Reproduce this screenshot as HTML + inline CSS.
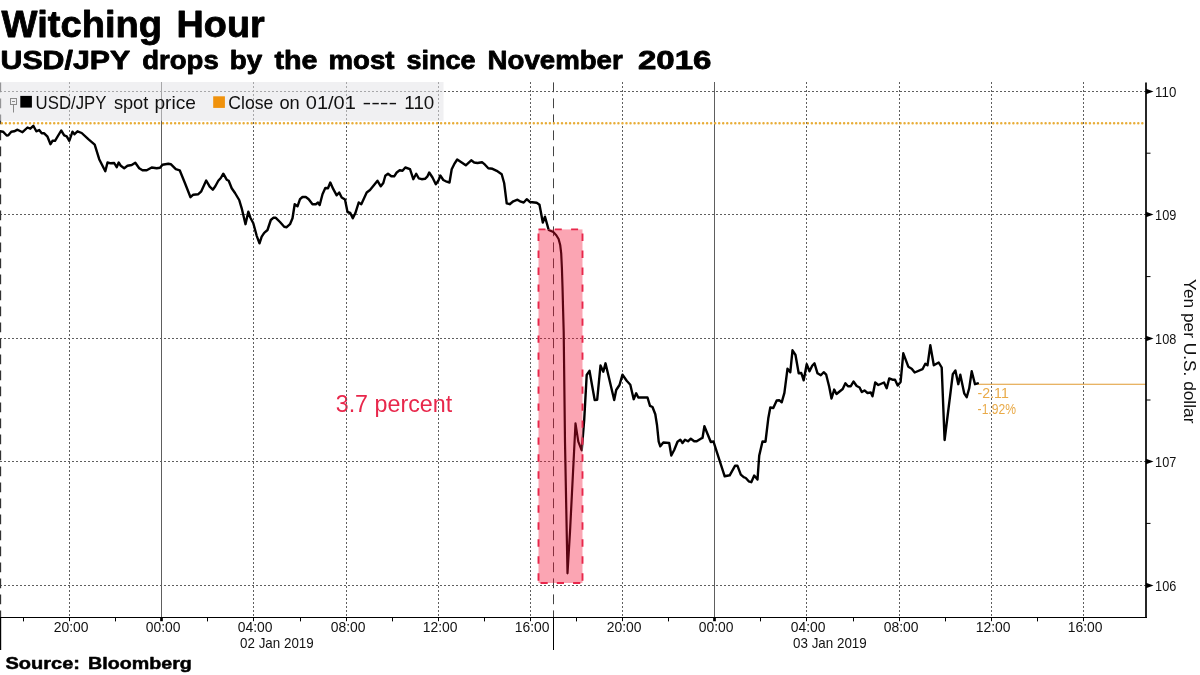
<!DOCTYPE html>
<html><head><meta charset="utf-8"><title>Witching Hour</title>
<style>
html,body{margin:0;padding:0;background:#fff;}
body{width:1200px;height:675px;overflow:hidden;position:relative;font-family:"Liberation Sans",sans-serif;}
svg text{font-family:"Liberation Sans",sans-serif;}
</style></head><body>
<svg width="1200" height="675" viewBox="0 0 1200 675" style="position:absolute;left:0;top:0;will-change:transform">
<text x="335.7" y="411.6" font-size="23.6" textLength="116.5" lengthAdjust="spacingAndGlyphs" fill="#e8274b">3.7 percent</text>
<text x="977.6" y="397.5" font-size="15" textLength="31.2" lengthAdjust="spacingAndGlyphs" fill="#e9aa48">-2.11</text>
<text x="977.6" y="413.5" font-size="15" textLength="38.4" lengthAdjust="spacingAndGlyphs" fill="#e9aa48">-1.92%</text>
<line x1="69.5" y1="82.0" x2="69.5" y2="617.5" stroke="#5e5e5e" stroke-width="1" stroke-dasharray="2,2"/>
<line x1="161.5" y1="82.0" x2="161.5" y2="617.5" stroke="#5e5e5e" stroke-width="1"/>
<line x1="253.5" y1="82.0" x2="253.5" y2="617.5" stroke="#5e5e5e" stroke-width="1" stroke-dasharray="2,2"/>
<line x1="346.5" y1="82.0" x2="346.5" y2="617.5" stroke="#5e5e5e" stroke-width="1" stroke-dasharray="2,2"/>
<line x1="438.5" y1="82.0" x2="438.5" y2="617.5" stroke="#5e5e5e" stroke-width="1" stroke-dasharray="2,2"/>
<line x1="530.5" y1="82.0" x2="530.5" y2="617.5" stroke="#5e5e5e" stroke-width="1" stroke-dasharray="2,2"/>
<line x1="622.5" y1="82.0" x2="622.5" y2="617.5" stroke="#5e5e5e" stroke-width="1" stroke-dasharray="2,2"/>
<line x1="714.5" y1="82.0" x2="714.5" y2="617.5" stroke="#5e5e5e" stroke-width="1"/>
<line x1="806.5" y1="82.0" x2="806.5" y2="617.5" stroke="#5e5e5e" stroke-width="1" stroke-dasharray="2,2"/>
<line x1="899.5" y1="82.0" x2="899.5" y2="617.5" stroke="#5e5e5e" stroke-width="1" stroke-dasharray="2,2"/>
<line x1="991.5" y1="82.0" x2="991.5" y2="617.5" stroke="#5e5e5e" stroke-width="1" stroke-dasharray="2,2"/>
<line x1="1083.5" y1="82.0" x2="1083.5" y2="617.5" stroke="#5e5e5e" stroke-width="1" stroke-dasharray="2,2"/>
<line x1="0" y1="91.5" x2="1146.0" y2="91.5" stroke="#5e5e5e" stroke-width="1" stroke-dasharray="2,2"/>
<line x1="0" y1="214.5" x2="1146.0" y2="214.5" stroke="#5e5e5e" stroke-width="1" stroke-dasharray="2,2"/>
<line x1="0" y1="338.5" x2="1146.0" y2="338.5" stroke="#5e5e5e" stroke-width="1" stroke-dasharray="2,2"/>
<line x1="0" y1="461.5" x2="1146.0" y2="461.5" stroke="#5e5e5e" stroke-width="1" stroke-dasharray="2,2"/>
<line x1="0" y1="585.5" x2="1146.0" y2="585.5" stroke="#5e5e5e" stroke-width="1" stroke-dasharray="2,2"/>
<line x1="0.4" y1="82.4" x2="0.4" y2="617.5" stroke="#333" stroke-width="1.5" stroke-dasharray="9.8,6.2"/>
<line x1="553.5" y1="82.4" x2="553.5" y2="617.5" stroke="#444" stroke-width="1" stroke-dasharray="9.8,6.2"/>
<line x1="0.4" y1="617.5" x2="0.4" y2="650" stroke="#000" stroke-width="1.6"/>
<line x1="553.5" y1="617.5" x2="553.5" y2="650" stroke="#000" stroke-width="1"/>
<rect x="0" y="82" width="443.5" height="38.8" fill="rgb(228,228,231)" fill-opacity="0.55"/>
<line x1="-2.2" y1="123.3" x2="1143" y2="123.3" stroke="#e8ad38" stroke-width="2.5" stroke-linecap="round" stroke-dasharray="0.01,4.02"/>
<line x1="977.7" y1="384.2" x2="1146.0" y2="384.2" stroke="#e09a30" stroke-width="1.1"/>
<defs><clipPath id="cin"><rect x="538.5" y="229.4" width="44" height="353.6"/></clipPath><clipPath id="cout"><path clip-rule="evenodd" d="M-5,0H1205V675H-5Z M538.5,229.4V583H582.5V229.4Z"/></clipPath></defs>
<path d="M0.0,131.3 L3.0,131.7 L6.7,135.5 L8.3,135.3 L11.3,131.7 L14.2,131.3 L17.5,129.7 L22.5,132.2 L27.5,127.5 L30.3,128.7 L33.3,125.8 L36.3,131.3 L39.2,130.0 L41.7,133.3 L44.2,133.3 L47.5,136.7 L50.5,144.2 L52.5,140.8 L55.0,140.8 L61.2,130.5 L64.2,135.3 L66.7,136.3 L69.3,140.8 L72.5,131.7 L74.5,134.2 L77.5,131.3 L81.7,133.0 L88.3,139.2 L94.7,144.7 L99.2,159.2 L105.3,171.3 L107.5,162.5 L110.8,163.3 L114.2,163.0 L116.7,167.2 L118.7,162.5 L120.8,165.8 L124.2,168.3 L127.5,165.8 L131.7,165.0 L135.3,162.7 L139.2,168.3 L142.5,170.3 L146.7,170.3 L151.7,167.5 L156.7,168.3 L160.0,167.8 L162.5,164.7 L168.3,163.7 L170.8,164.2 L175.8,169.2 L179.7,170.3 L185.0,183.3 L190.5,197.2 L193.3,194.7 L198.3,194.2 L201.3,191.3 L206.2,180.5 L209.7,186.7 L212.8,189.7 L215.3,186.3 L218.3,180.8 L220.8,178.0 L223.3,173.7 L226.7,179.7 L228.7,180.8 L231.7,188.3 L235.0,193.0 L239.2,200.0 L241.7,208.3 L245.5,224.2 L248.3,211.7 L250.3,217.5 L253.3,223.3 L256.7,235.8 L259.5,243.3 L261.7,236.7 L264.2,232.8 L267.5,230.0 L270.8,220.0 L273.3,217.8 L275.8,217.8 L280.0,222.0 L284.2,226.7 L286.7,227.2 L290.0,224.2 L292.5,218.3 L294.7,204.2 L297.5,206.3 L300.0,199.2 L302.5,197.0 L305.8,197.0 L308.7,199.2 L312.5,204.2 L315.8,204.2 L318.0,202.5 L319.7,205.0 L322.5,194.2 L325.3,188.0 L328.0,188.3 L330.3,182.5 L333.3,189.2 L336.7,195.3 L339.2,192.5 L341.7,197.5 L345.0,199.5 L347.5,212.0 L350.3,213.0 L352.8,218.3 L355.3,213.3 L358.7,202.5 L361.3,204.2 L366.7,192.5 L370.0,190.0 L377.5,180.8 L380.8,186.3 L383.3,183.0 L385.3,175.8 L388.0,173.7 L391.3,176.3 L394.2,176.3 L396.7,172.5 L399.7,170.3 L402.5,170.8 L405.3,167.5 L410.0,169.2 L413.3,179.2 L416.2,173.7 L418.7,178.3 L421.7,179.2 L425.0,178.8 L427.5,176.3 L429.2,172.5 L432.5,177.5 L435.8,184.2 L438.3,180.8 L440.3,175.5 L443.3,180.0 L446.7,181.7 L449.5,182.5 L451.7,169.2 L454.2,164.2 L457.2,159.5 L461.7,162.5 L465.8,165.3 L471.2,160.3 L474.2,162.5 L477.5,163.0 L482.0,162.2 L485.0,164.7 L488.3,168.3 L492.5,168.8 L496.7,170.8 L501.7,174.2 L504.2,183.3 L506.7,203.3 L509.7,204.2 L513.3,201.3 L517.5,199.7 L520.8,201.7 L523.7,202.5 L526.7,199.2 L530.0,202.0 L536.7,202.8 L539.5,204.7 L542.8,222.5 L545.0,216.7 L548.7,230.0 L553.3,232.0 L556.3,235.2 L558.6,239.0 L560.2,245.0 L561.2,253.3 L561.9,268.0 L562.5,286.7 L563.1,310.0 L563.7,332.0 L565.0,442.0 L567.5,573.3 L570.0,532.0 L575.5,423.3 L578.3,441.7 L581.7,450.3 L584.2,420.0 L586.7,375.0 L589.5,370.8 L592.0,385.0 L594.7,400.0 L597.2,399.7 L600.5,365.5 L603.3,371.7 L605.5,363.3 L608.3,375.0 L614.2,400.0 L616.2,390.0 L619.5,385.0 L622.5,374.7 L626.7,380.8 L630.3,384.7 L633.7,399.2 L636.2,393.3 L638.3,397.5 L647.5,397.5 L650.0,405.8 L652.5,407.0 L655.3,414.2 L657.0,425.0 L658.7,441.7 L660.3,446.3 L663.3,442.5 L669.2,443.0 L671.3,455.5 L674.2,450.0 L677.5,441.7 L680.3,439.7 L682.5,443.0 L685.0,439.7 L688.0,441.3 L690.8,438.7 L694.2,441.3 L696.7,441.3 L700.8,438.7 L702.5,438.0 L704.4,426.3 L710.8,442.0 L713.5,441.5 L716.7,451.7 L724.7,476.3 L729.7,475.3 L735.0,465.8 L737.5,465.8 L740.8,474.7 L743.7,477.2 L745.8,478.0 L748.7,481.3 L751.3,482.2 L754.2,475.5 L757.5,479.5 L759.2,455.8 L762.5,441.5 L765.5,441.7 L768.3,418.3 L770.3,407.5 L773.3,408.0 L776.7,400.5 L779.2,400.2 L781.7,402.3 L784.4,392.9 L787.5,368.7 L790.3,372.2 L792.5,350.3 L795.5,355.0 L798.7,373.3 L801.3,373.0 L803.7,380.3 L806.7,364.2 L809.5,371.3 L812.2,365.8 L814.5,363.3 L817.5,373.3 L820.8,375.3 L823.7,372.2 L826.2,374.7 L829.2,386.7 L831.5,398.5 L834.2,389.6 L836.5,394.0 L842.7,389.0 L845.4,383.3 L848.0,386.2 L850.8,386.2 L853.5,381.5 L856.7,386.0 L859.6,387.5 L861.8,392.1 L864.5,390.4 L867.5,393.0 L870.8,392.5 L872.5,396.3 L875.2,382.5 L878.3,385.0 L884.0,382.5 L886.7,388.2 L889.2,378.5 L892.5,379.7 L895.0,379.7 L897.7,385.6 L900.6,382.0 L903.3,353.3 L908.3,366.7 L911.7,368.7 L914.7,372.5 L922.5,369.2 L925.3,363.8 L927.5,365.3 L930.3,345.3 L933.8,365.3 L938.7,362.5 L941.7,367.5 L944.6,440.0 L952.8,374.2 L955.4,370.5 L958.3,384.2 L960.3,374.7 L964.2,393.3 L966.7,397.2 L969.2,388.3 L971.7,371.3 L975.0,384.2 L977.8,383.3" fill="none" stroke="#000" stroke-width="2.4" stroke-linejoin="round" stroke-linecap="round" clip-path="url(#cout)"/>
<path d="M0.0,131.3 L3.0,131.7 L6.7,135.5 L8.3,135.3 L11.3,131.7 L14.2,131.3 L17.5,129.7 L22.5,132.2 L27.5,127.5 L30.3,128.7 L33.3,125.8 L36.3,131.3 L39.2,130.0 L41.7,133.3 L44.2,133.3 L47.5,136.7 L50.5,144.2 L52.5,140.8 L55.0,140.8 L61.2,130.5 L64.2,135.3 L66.7,136.3 L69.3,140.8 L72.5,131.7 L74.5,134.2 L77.5,131.3 L81.7,133.0 L88.3,139.2 L94.7,144.7 L99.2,159.2 L105.3,171.3 L107.5,162.5 L110.8,163.3 L114.2,163.0 L116.7,167.2 L118.7,162.5 L120.8,165.8 L124.2,168.3 L127.5,165.8 L131.7,165.0 L135.3,162.7 L139.2,168.3 L142.5,170.3 L146.7,170.3 L151.7,167.5 L156.7,168.3 L160.0,167.8 L162.5,164.7 L168.3,163.7 L170.8,164.2 L175.8,169.2 L179.7,170.3 L185.0,183.3 L190.5,197.2 L193.3,194.7 L198.3,194.2 L201.3,191.3 L206.2,180.5 L209.7,186.7 L212.8,189.7 L215.3,186.3 L218.3,180.8 L220.8,178.0 L223.3,173.7 L226.7,179.7 L228.7,180.8 L231.7,188.3 L235.0,193.0 L239.2,200.0 L241.7,208.3 L245.5,224.2 L248.3,211.7 L250.3,217.5 L253.3,223.3 L256.7,235.8 L259.5,243.3 L261.7,236.7 L264.2,232.8 L267.5,230.0 L270.8,220.0 L273.3,217.8 L275.8,217.8 L280.0,222.0 L284.2,226.7 L286.7,227.2 L290.0,224.2 L292.5,218.3 L294.7,204.2 L297.5,206.3 L300.0,199.2 L302.5,197.0 L305.8,197.0 L308.7,199.2 L312.5,204.2 L315.8,204.2 L318.0,202.5 L319.7,205.0 L322.5,194.2 L325.3,188.0 L328.0,188.3 L330.3,182.5 L333.3,189.2 L336.7,195.3 L339.2,192.5 L341.7,197.5 L345.0,199.5 L347.5,212.0 L350.3,213.0 L352.8,218.3 L355.3,213.3 L358.7,202.5 L361.3,204.2 L366.7,192.5 L370.0,190.0 L377.5,180.8 L380.8,186.3 L383.3,183.0 L385.3,175.8 L388.0,173.7 L391.3,176.3 L394.2,176.3 L396.7,172.5 L399.7,170.3 L402.5,170.8 L405.3,167.5 L410.0,169.2 L413.3,179.2 L416.2,173.7 L418.7,178.3 L421.7,179.2 L425.0,178.8 L427.5,176.3 L429.2,172.5 L432.5,177.5 L435.8,184.2 L438.3,180.8 L440.3,175.5 L443.3,180.0 L446.7,181.7 L449.5,182.5 L451.7,169.2 L454.2,164.2 L457.2,159.5 L461.7,162.5 L465.8,165.3 L471.2,160.3 L474.2,162.5 L477.5,163.0 L482.0,162.2 L485.0,164.7 L488.3,168.3 L492.5,168.8 L496.7,170.8 L501.7,174.2 L504.2,183.3 L506.7,203.3 L509.7,204.2 L513.3,201.3 L517.5,199.7 L520.8,201.7 L523.7,202.5 L526.7,199.2 L530.0,202.0 L536.7,202.8 L539.5,204.7 L542.8,222.5 L545.0,216.7 L548.7,230.0 L553.3,232.0 L556.3,235.2 L558.6,239.0 L560.2,245.0 L561.2,253.3 L561.9,268.0 L562.5,286.7 L563.1,310.0 L563.7,332.0 L565.0,442.0 L567.5,573.3 L570.0,532.0 L575.5,423.3 L578.3,441.7 L581.7,450.3 L584.2,420.0 L586.7,375.0 L589.5,370.8 L592.0,385.0 L594.7,400.0 L597.2,399.7 L600.5,365.5 L603.3,371.7 L605.5,363.3 L608.3,375.0 L614.2,400.0 L616.2,390.0 L619.5,385.0 L622.5,374.7 L626.7,380.8 L630.3,384.7 L633.7,399.2 L636.2,393.3 L638.3,397.5 L647.5,397.5 L650.0,405.8 L652.5,407.0 L655.3,414.2 L657.0,425.0 L658.7,441.7 L660.3,446.3 L663.3,442.5 L669.2,443.0 L671.3,455.5 L674.2,450.0 L677.5,441.7 L680.3,439.7 L682.5,443.0 L685.0,439.7 L688.0,441.3 L690.8,438.7 L694.2,441.3 L696.7,441.3 L700.8,438.7 L702.5,438.0 L704.4,426.3 L710.8,442.0 L713.5,441.5 L716.7,451.7 L724.7,476.3 L729.7,475.3 L735.0,465.8 L737.5,465.8 L740.8,474.7 L743.7,477.2 L745.8,478.0 L748.7,481.3 L751.3,482.2 L754.2,475.5 L757.5,479.5 L759.2,455.8 L762.5,441.5 L765.5,441.7 L768.3,418.3 L770.3,407.5 L773.3,408.0 L776.7,400.5 L779.2,400.2 L781.7,402.3 L784.4,392.9 L787.5,368.7 L790.3,372.2 L792.5,350.3 L795.5,355.0 L798.7,373.3 L801.3,373.0 L803.7,380.3 L806.7,364.2 L809.5,371.3 L812.2,365.8 L814.5,363.3 L817.5,373.3 L820.8,375.3 L823.7,372.2 L826.2,374.7 L829.2,386.7 L831.5,398.5 L834.2,389.6 L836.5,394.0 L842.7,389.0 L845.4,383.3 L848.0,386.2 L850.8,386.2 L853.5,381.5 L856.7,386.0 L859.6,387.5 L861.8,392.1 L864.5,390.4 L867.5,393.0 L870.8,392.5 L872.5,396.3 L875.2,382.5 L878.3,385.0 L884.0,382.5 L886.7,388.2 L889.2,378.5 L892.5,379.7 L895.0,379.7 L897.7,385.6 L900.6,382.0 L903.3,353.3 L908.3,366.7 L911.7,368.7 L914.7,372.5 L922.5,369.2 L925.3,363.8 L927.5,365.3 L930.3,345.3 L933.8,365.3 L938.7,362.5 L941.7,367.5 L944.6,440.0 L952.8,374.2 L955.4,370.5 L958.3,384.2 L960.3,374.7 L964.2,393.3 L966.7,397.2 L969.2,388.3 L971.7,371.3 L975.0,384.2 L977.8,383.3" fill="none" stroke="#000" stroke-width="2.2" stroke-linejoin="round" stroke-linecap="round" clip-path="url(#cin)"/>
<rect x="538.5" y="229.4" width="44" height="353.6" fill="rgb(245,10,50)" fill-opacity="0.37"/>
<g stroke="#e8274b" stroke-width="1.9" fill="none">
<line x1="538.5" y1="229.4" x2="583.4" y2="229.4" stroke-dasharray="7,9.3"/>
<line x1="583.5" y1="583" x2="537.5" y2="583" stroke-dasharray="0,3.2,7.2,9.1,7.2,9.1,7.2,9.1"/>
<line x1="582.5" y1="233.5" x2="582.5" y2="583" stroke-dasharray="7.4,9.59"/>
<line x1="538.5" y1="233.5" x2="538.5" y2="583" stroke-dasharray="7.4,9.59"/>
</g>
<line x1="1146.0" y1="82.5" x2="1146.0" y2="618.1" stroke="#000" stroke-width="1.7"/>
<line x1="0" y1="617.5" x2="1147.0" y2="617.5" stroke="#000" stroke-width="1.2"/>
<path d="M1146.0,88.8 L1153.5,91.5 L1146.0,94.2 Z" fill="#000"/>
<text x="1155.1" y="96.8" font-size="15" textLength="21.2" lengthAdjust="spacingAndGlyphs" fill="#111">110</text>
<path d="M1146.0,211.8 L1153.5,214.5 L1146.0,217.2 Z" fill="#000"/>
<text x="1155.1" y="219.8" font-size="15" textLength="21.2" lengthAdjust="spacingAndGlyphs" fill="#111">109</text>
<path d="M1146.0,335.8 L1153.5,338.5 L1146.0,341.2 Z" fill="#000"/>
<text x="1155.1" y="343.8" font-size="15" textLength="21.2" lengthAdjust="spacingAndGlyphs" fill="#111">108</text>
<path d="M1146.0,458.8 L1153.5,461.5 L1146.0,464.2 Z" fill="#000"/>
<text x="1155.1" y="466.8" font-size="15" textLength="21.2" lengthAdjust="spacingAndGlyphs" fill="#111">107</text>
<path d="M1146.0,582.8 L1153.5,585.5 L1146.0,588.2 Z" fill="#000"/>
<text x="1155.1" y="590.8" font-size="15" textLength="21.2" lengthAdjust="spacingAndGlyphs" fill="#111">106</text>
<line x1="1146.0" y1="153.2" x2="1150.5" y2="153.2" stroke="#000" stroke-width="1"/>
<line x1="1146.0" y1="276.6" x2="1150.5" y2="276.6" stroke="#000" stroke-width="1"/>
<line x1="1146.0" y1="400.0" x2="1150.5" y2="400.0" stroke="#000" stroke-width="1"/>
<line x1="1146.0" y1="523.4" x2="1150.5" y2="523.4" stroke="#000" stroke-width="1"/>
<line x1="69.5" y1="617.5" x2="69.5" y2="621.2" stroke="#000" stroke-width="1"/>
<text x="53.7" y="632" font-size="15" textLength="34.8" lengthAdjust="spacingAndGlyphs" fill="#111">20:00</text>
<line x1="161.5" y1="617.5" x2="161.5" y2="621.2" stroke="#000" stroke-width="2.7"/>
<text x="145.7" y="632" font-size="15" textLength="34.8" lengthAdjust="spacingAndGlyphs" fill="#111">00:00</text>
<line x1="253.5" y1="617.5" x2="253.5" y2="621.2" stroke="#000" stroke-width="1"/>
<text x="237.7" y="632" font-size="15" textLength="34.8" lengthAdjust="spacingAndGlyphs" fill="#111">04:00</text>
<line x1="346.5" y1="617.5" x2="346.5" y2="621.2" stroke="#000" stroke-width="1"/>
<text x="330.7" y="632" font-size="15" textLength="34.8" lengthAdjust="spacingAndGlyphs" fill="#111">08:00</text>
<line x1="438.5" y1="617.5" x2="438.5" y2="621.2" stroke="#000" stroke-width="1"/>
<text x="422.7" y="632" font-size="15" textLength="34.8" lengthAdjust="spacingAndGlyphs" fill="#111">12:00</text>
<line x1="530.5" y1="617.5" x2="530.5" y2="621.2" stroke="#000" stroke-width="1"/>
<text x="514.7" y="632" font-size="15" textLength="34.8" lengthAdjust="spacingAndGlyphs" fill="#111">16:00</text>
<line x1="622.5" y1="617.5" x2="622.5" y2="621.2" stroke="#000" stroke-width="1"/>
<text x="606.7" y="632" font-size="15" textLength="34.8" lengthAdjust="spacingAndGlyphs" fill="#111">20:00</text>
<line x1="714.5" y1="617.5" x2="714.5" y2="621.2" stroke="#000" stroke-width="2.7"/>
<text x="698.7" y="632" font-size="15" textLength="34.8" lengthAdjust="spacingAndGlyphs" fill="#111">00:00</text>
<line x1="806.5" y1="617.5" x2="806.5" y2="621.2" stroke="#000" stroke-width="1"/>
<text x="790.7" y="632" font-size="15" textLength="34.8" lengthAdjust="spacingAndGlyphs" fill="#111">04:00</text>
<line x1="899.5" y1="617.5" x2="899.5" y2="621.2" stroke="#000" stroke-width="1"/>
<text x="883.7" y="632" font-size="15" textLength="34.8" lengthAdjust="spacingAndGlyphs" fill="#111">08:00</text>
<line x1="991.5" y1="617.5" x2="991.5" y2="621.2" stroke="#000" stroke-width="1"/>
<text x="975.7" y="632" font-size="15" textLength="34.8" lengthAdjust="spacingAndGlyphs" fill="#111">12:00</text>
<line x1="1083.5" y1="617.5" x2="1083.5" y2="621.2" stroke="#000" stroke-width="1"/>
<text x="1067.7" y="632" font-size="15" textLength="34.8" lengthAdjust="spacingAndGlyphs" fill="#111">16:00</text>
<line x1="23.5" y1="617.5" x2="23.5" y2="621.4" stroke="#000" stroke-width="1"/>
<line x1="115.5" y1="617.5" x2="115.5" y2="621.4" stroke="#000" stroke-width="1"/>
<line x1="207.5" y1="617.5" x2="207.5" y2="621.4" stroke="#000" stroke-width="1"/>
<line x1="300.5" y1="617.5" x2="300.5" y2="621.4" stroke="#000" stroke-width="1"/>
<line x1="392.5" y1="617.5" x2="392.5" y2="621.4" stroke="#000" stroke-width="1"/>
<line x1="484.5" y1="617.5" x2="484.5" y2="621.4" stroke="#000" stroke-width="1"/>
<line x1="576.5" y1="617.5" x2="576.5" y2="621.4" stroke="#000" stroke-width="1"/>
<line x1="668.5" y1="617.5" x2="668.5" y2="621.4" stroke="#000" stroke-width="1"/>
<line x1="760.5" y1="617.5" x2="760.5" y2="621.4" stroke="#000" stroke-width="1"/>
<line x1="853.5" y1="617.5" x2="853.5" y2="621.4" stroke="#000" stroke-width="1"/>
<line x1="945.5" y1="617.5" x2="945.5" y2="621.4" stroke="#000" stroke-width="1"/>
<line x1="1037.5" y1="617.5" x2="1037.5" y2="621.4" stroke="#000" stroke-width="1"/>
<text x="240.1" y="647.8" font-size="15" textLength="73.6" lengthAdjust="spacingAndGlyphs" fill="#111">02 Jan 2019</text>
<text x="793.1" y="647.8" font-size="15" textLength="73.6" lengthAdjust="spacingAndGlyphs" fill="#111">03 Jan 2019</text>
<g stroke="#8a8a8a" stroke-width="1" fill="none"><rect x="10.5" y="98.5" width="6" height="6"/><line x1="12" y1="101.5" x2="15" y2="101.5"/><line x1="13.5" y1="104.5" x2="13.5" y2="112.5"/></g>
<rect x="20.3" y="95.9" width="11.6" height="11.7" fill="#000"/>
<text x="35.61" y="109.1" font-size="19" textLength="70.76" lengthAdjust="spacingAndGlyphs" fill="#111">USD/JPY</text>
<text x="113.89" y="109.1" font-size="19" textLength="34.44" lengthAdjust="spacingAndGlyphs" fill="#111">spot</text>
<text x="154.47" y="109.1" font-size="19" textLength="41.49" lengthAdjust="spacingAndGlyphs" fill="#111">price</text>
<rect x="213.2" y="96.3" width="11.7" height="11.6" fill="#f0920c"/>
<text x="228.35" y="109.1" font-size="19" textLength="45.03" lengthAdjust="spacingAndGlyphs" fill="#111">Close</text>
<text x="279.43" y="109.1" font-size="19" textLength="20.36" lengthAdjust="spacingAndGlyphs" fill="#111">on</text>
<text x="305.82" y="109.1" font-size="19" textLength="50.05" lengthAdjust="spacingAndGlyphs" fill="#111">01/01</text>
<text x="362.44" y="109.1" font-size="19" textLength="34.83" lengthAdjust="spacingAndGlyphs" fill="#111">----</text>
<text x="404.37" y="109.1" font-size="19" textLength="29.97" lengthAdjust="spacingAndGlyphs" fill="#111">110</text>
<text transform="translate(1183.7,279) rotate(90)" font-size="17.4" textLength="144.4" lengthAdjust="spacingAndGlyphs" fill="#111">Yen per U.S. dollar</text>
<text x="1.61" y="36.6" font-size="36.2" font-weight="bold" stroke="#000" stroke-width="0.8" stroke-linejoin="round" textLength="160.54" lengthAdjust="spacingAndGlyphs" fill="#000">Witching</text>
<text x="176.62" y="36.6" font-size="36.2" font-weight="bold" stroke="#000" stroke-width="0.8" stroke-linejoin="round" textLength="88.05" lengthAdjust="spacingAndGlyphs" fill="#000">Hour</text>
<text x="0.58" y="68.6" font-size="25.6" font-weight="bold" stroke="#000" stroke-width="0.8" stroke-linejoin="round" textLength="129.51" lengthAdjust="spacingAndGlyphs" fill="#000">USD/JPY</text>
<text x="142.27" y="68.6" font-size="25.6" font-weight="bold" stroke="#000" stroke-width="0.8" stroke-linejoin="round" textLength="76.47" lengthAdjust="spacingAndGlyphs" fill="#000">drops</text>
<text x="229.87" y="68.6" font-size="25.6" font-weight="bold" stroke="#000" stroke-width="0.8" stroke-linejoin="round" textLength="32.38" lengthAdjust="spacingAndGlyphs" fill="#000">by</text>
<text x="274.56" y="68.6" font-size="25.6" font-weight="bold" stroke="#000" stroke-width="0.8" stroke-linejoin="round" textLength="43.02" lengthAdjust="spacingAndGlyphs" fill="#000">the</text>
<text x="328.58" y="68.6" font-size="25.6" font-weight="bold" stroke="#000" stroke-width="0.8" stroke-linejoin="round" textLength="65.85" lengthAdjust="spacingAndGlyphs" fill="#000">most</text>
<text x="406.45" y="68.6" font-size="25.6" font-weight="bold" stroke="#000" stroke-width="0.8" stroke-linejoin="round" textLength="69.07" lengthAdjust="spacingAndGlyphs" fill="#000">since</text>
<text x="487.55" y="68.6" font-size="25.6" font-weight="bold" stroke="#000" stroke-width="0.8" stroke-linejoin="round" textLength="135.17" lengthAdjust="spacingAndGlyphs" fill="#000">November</text>
<text x="637.96" y="68.6" font-size="25.6" font-weight="bold" stroke="#000" stroke-width="0.8" stroke-linejoin="round" textLength="73.53" lengthAdjust="spacingAndGlyphs" fill="#000">2016</text>
<text x="5.47" y="669.0" font-size="17.2" font-weight="bold" stroke="#000" stroke-width="0.5" stroke-linejoin="round" textLength="74.50" lengthAdjust="spacingAndGlyphs" fill="#000">Source:</text>
<text x="88.13" y="669.0" font-size="17.2" font-weight="bold" stroke="#000" stroke-width="0.5" stroke-linejoin="round" textLength="103.73" lengthAdjust="spacingAndGlyphs" fill="#000">Bloomberg</text>
</svg>
</body></html>
